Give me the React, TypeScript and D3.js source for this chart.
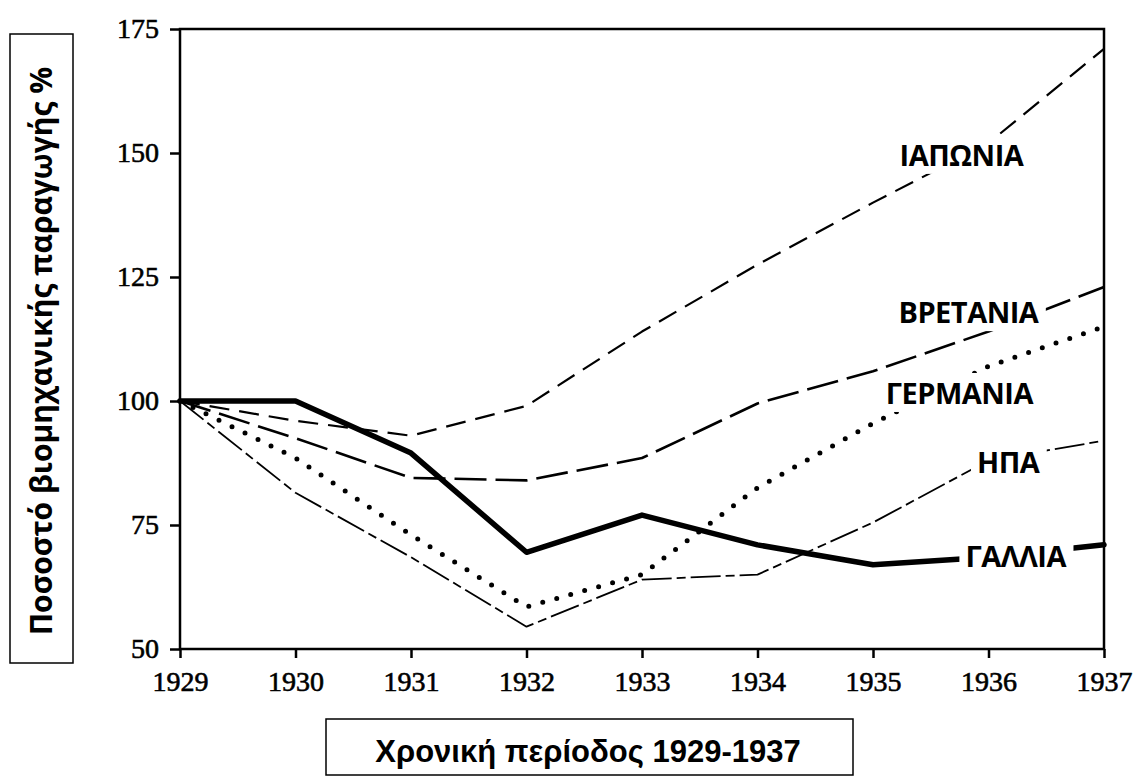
import React, { useEffect, useRef } from 'react';
import * as d3 from 'd3';

// index of industrial production, 1929 = 100
const years = [1929, 1930, 1931, 1932, 1933, 1934, 1935, 1936, 1937];
const yTicks = [50, 75, 100, 125, 150, 175];
const japan = [100, 96, 93, 99, 114, 127.5, 140, 152, 171];
const britain = [100, 92.5, 84.5, 84, 88.5, 99.5, 106, 114, 123];
const germany = [100, 88.5, 73, 58.5, 65, 82.5, 95.5, 107, 115];
const usa = [100, 81.5, 68.5, 54.5, 64, 65, 75.5, 88, 92];
const france = [100, 100, 89.5, 69.5, 77, 71, 67, 68.5, 71];

const yTitle = 'Ποσοστό βιομηχανικής παραγωγής %';
const xTitle = 'Χρονική περίοδος 1929-1937';

const W = 1136;
const H = 778;
const margin = { top: 29, right: 32, bottom: 129, left: 180 };

const series = [
  { name: 'ΙΑΠΩΝΙΑ', values: japan, width: 2.2, dash: '20,10', cap: 'butt', lx: 1935.23, ly: 147.4 },
  { name: 'ΒΡΕΤΑΝΙΑ', values: britain, width: 2.6, dash: '32,9', cap: 'butt', lx: 1935.22, ly: 115.7 },
  { name: 'ΓΕΡΜΑΝΙΑ', values: germany, width: 5, dash: '0,14.5', cap: 'round', lx: 1935.11, ly: 99.4 },
  { name: 'ΗΠΑ', values: usa, width: 1.8, dash: '30,5,9,5', cap: 'butt', lx: 1935.9, ly: 85.5 },
  { name: 'ΓΑΛΛΙΑ', values: france, width: 5.5, dash: null, cap: 'round', lx: 1935.8, ly: 66.5 },
];

export default function App() {
  const svgRef = useRef(null);

  useEffect(() => {
    const svg = d3.select(svgRef.current);
    svg.selectAll('*').remove();

    const x = d3.scaleLinear().domain([1929, 1937]).range([margin.left, W - margin.right]);
    const y = d3.scaleLinear().domain([50, 175]).range([H - margin.bottom, margin.top]);

    const line = d3.line()
      .x((d, i) => x(years[i]))
      .y(d => y(d));

    // series lines
    series.forEach(s => {
      svg.append('path')
        .attr('d', line(s.values))
        .attr('fill', 'none')
        .attr('stroke', '#000')
        .attr('stroke-width', s.width)
        .attr('stroke-dasharray', s.dash)
        .attr('stroke-linecap', s.cap)
        .attr('stroke-linejoin', 'round');
    });

    // country labels on white patches
    series.forEach(s => {
      const g = svg.append('g');
      const t = g.append('text')
        .attr('x', x(s.lx))
        .attr('y', y(s.ly))
        .attr('font-family', '"Open Sans", sans-serif')
        .attr('font-weight', 700)
        .attr('font-size', 29)
        .attr('letter-spacing', -0.5)
        .text(s.name);
      const bb = t.node().getBBox();
      g.insert('rect', 'text')
        .attr('x', bb.x - 6)
        .attr('y', bb.y)
        .attr('width', bb.width + 12)
        .attr('height', bb.height)
        .attr('fill', '#fff');
    });

    // frame
    svg.append('rect')
      .attr('x', margin.left)
      .attr('y', margin.top)
      .attr('width', W - margin.left - margin.right)
      .attr('height', H - margin.top - margin.bottom)
      .attr('fill', 'none')
      .attr('stroke', '#000')
      .attr('stroke-width', 2.5);

    const yAxis = svg.append('g')
      .attr('transform', `translate(${margin.left},0)`)
      .call(d3.axisLeft(y).tickValues(yTicks).tickSize(10).tickPadding(11));
    const xAxis = svg.append('g')
      .attr('transform', `translate(0,${H - margin.bottom})`)
      .call(d3.axisBottom(x).tickValues(years).tickFormat(d3.format('d')).tickSize(9).tickPadding(13));

    [yAxis, xAxis].forEach(a => {
      a.select('.domain').remove();
      a.selectAll('line').attr('stroke', '#000').attr('stroke-width', 2.5);
      a.selectAll('text')
        .attr('fill', '#000')
        .attr('stroke', '#000')
        .attr('stroke-width', 0.6)
        .attr('font-family', '"Liberation Serif", serif')
        .attr('font-size', 28);
    });

    // y title box
    svg.append('rect')
      .attr('x', 10).attr('y', 34).attr('width', 63).attr('height', 629)
      .attr('fill', 'none').attr('stroke', '#000').attr('stroke-width', 1.5);
    svg.append('text')
      .attr('transform', 'translate(52,351) rotate(-90)')
      .attr('text-anchor', 'middle')
      .attr('font-family', '"Open Sans", sans-serif')
      .attr('font-weight', 700)
      .attr('font-size', 30)
      .text(yTitle);

    // x title box
    svg.append('rect')
      .attr('x', 326).attr('y', 719).attr('width', 527).attr('height', 56)
      .attr('fill', 'none').attr('stroke', '#000').attr('stroke-width', 1.5);
    svg.append('text')
      .attr('x', 588).attr('y', 762)
      .attr('text-anchor', 'middle')
      .attr('font-family', '"Liberation Sans", Arial, sans-serif')
      .attr('font-weight', 700)
      .attr('font-size', 31)
      .text(xTitle);
  }, []);

  return (
    <svg ref={svgRef} width={W} height={H}
      style={{ position: 'absolute', left: 0, top: 0, background: '#fff' }} />
  );
}
